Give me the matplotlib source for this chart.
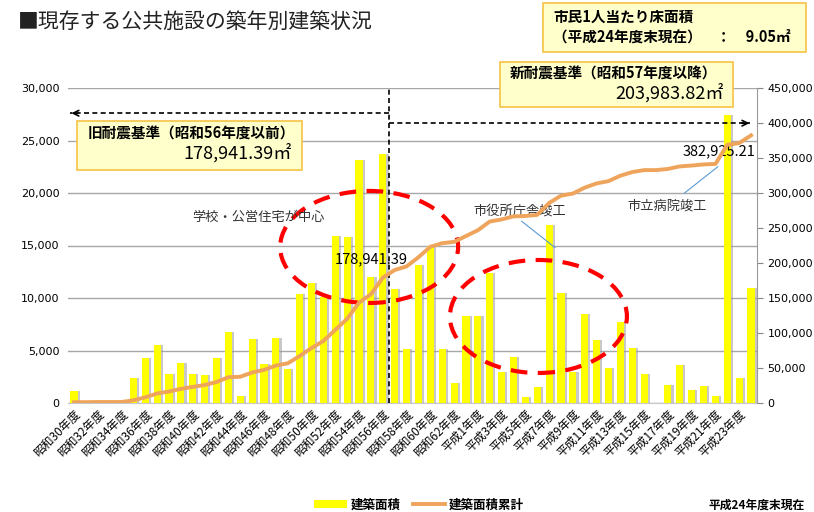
import numpy as np
import matplotlib
matplotlib.use("Agg")
import matplotlib.pyplot as plt
from matplotlib.patches import Ellipse, Rectangle, Patch
from matplotlib.lines import Line2D

plt.rcParams['font.family'] = ['Noto Sans CJK JP', 'DejaVu Sans']

# 年度ラベル（昭和30年度〜平成24年度）
years = ['昭和%d年度' % y for y in range(30, 64)] + ['平成%d年度' % y for y in range(1, 25)]

# 建築面積（㎡）
area = [1100, 100, 200, 0, 0, 2400, 4300, 5500, 2800, 3800,
        2800, 2700, 4300, 6800, 700, 6100, 3700, 6200, 3200, 10400,
        11400, 10100, 15900, 15800, 23100, 12000, 23700,
        10900, 5100, 13100, 15000, 5100, 1900, 8300, 8300, 12400,
        3000, 4400, 600, 1500, 17000, 10500, 3000, 8500, 6000,
        3300, 7700, 5200, 2800, 0, 1700, 3600, 1200, 1600,
        700, 27400, 2400, 11000]

cumulative = np.cumsum(area)
x = np.arange(len(years))

W, H = 814, 512


def fx(px):
    return px / W


def fy(py):
    return 1 - py / H


fig = plt.figure(figsize=(W / 100, H / 100), dpi=100)
ax = fig.add_axes([fx(68), fy(403), (757 - 68) / W, (403 - 88) / H])
ax2 = ax.twinx()

# 棒（影つき）
ax.bar(x + 0.18, area, width=0.6, color='#9c9c9c', alpha=0.55, zorder=2)
ax.bar(x, area, width=0.6, color='#FFFF00', zorder=3)

ax.set_xlim(-0.5, len(years) - 0.5)
ax.set_ylim(0, 30000)
ax.set_yticks(np.arange(0, 30001, 5000))
ax.set_yticklabels(['{:,}'.format(v) for v in range(0, 30001, 5000)], fontsize=8,
                   family=['DejaVu Sans'])
ax.grid(axis='y', color='#a8a8a8', linewidth=1)
ax.set_axisbelow(True)
ax.tick_params(axis='y', length=0, pad=6)
ax.set_xticks(x[::2])
ax.set_xticklabels(years[::2], rotation=45, ha='right', va='top',
                   rotation_mode='anchor', fontsize=8.5)
ax.tick_params(axis='x', length=0, pad=3)
for s in ['left', 'top', 'right']:
    ax.spines[s].set_visible(False)
ax.spines['bottom'].set_color('#c8c8c8')

# 累計の折れ線
ax2.plot(x, cumulative, color='#EFA45C', linewidth=2.8, zorder=4)
ax2.set_ylim(0, 450000)
ax2.set_yticks(np.arange(0, 450001, 50000))
ax2.set_yticklabels(['{:,}'.format(v) for v in range(0, 450001, 50000)], fontsize=8,
                    family=['DejaVu Sans'])
ax2.tick_params(axis='y', length=4, color='#888888')
for s in ['left', 'top', 'bottom']:
    ax2.spines[s].set_visible(False)
ax2.spines['right'].set_color('#999999')

# 旧／新耐震基準の境界
ax.axvline(26.5, color='black', linestyle=(0, (3, 2)), linewidth=1.2, zorder=5)
ax.plot([26.5, -0.3], [27600, 27600], color='black', linestyle=(0, (3, 2)),
        linewidth=1.2, clip_on=False, zorder=5)
ax.annotate('', xy=(-0.45, 27600), xytext=(0.6, 27600),
            arrowprops=dict(arrowstyle='->', color='black', lw=1.2), annotation_clip=False)
ax.plot([26.5, 56.9], [26650, 26650], color='black', linestyle=(0, (3, 2)),
        linewidth=1.2, clip_on=False, zorder=5)
ax.annotate('', xy=(57.1, 26650), xytext=(56.0, 26650),
            arrowprops=dict(arrowstyle='->', color='black', lw=1.2), annotation_clip=False)

# 赤い破線の楕円
ax.add_patch(Ellipse((24.85, 14860), 14.98, 10670, fill=False, edgecolor='#FF0000',
                     linestyle=(0, (4, 2.5)), linewidth=3, zorder=6))
ax.add_patch(Ellipse((39.1, 8240), 14.9, 10760, fill=False, edgecolor='#FF0000',
                     linestyle=(0, (4, 2.5)), linewidth=3, zorder=6))

# 注記
ax.text(15.5, 17700, '学校・公営住宅が中心', fontsize=9.5, color='#333333',
        ha='center', va='center', zorder=7)
ax.text(25.0, 13700, '178,941.39', fontsize=10.5, color='black',
        ha='center', va='center', zorder=7)
ax.text(37.5, 18200, '市役所庁舎竣工', fontsize=9.5, color='#333333',
        ha='center', va='center', zorder=7)
ax.plot([37.7, 40.5], [17300, 14800], color='#5B9BD5', linewidth=0.8, zorder=7)
ax.text(49.9, 18800, '市立病院竣工', fontsize=9.5, color='#333333',
        ha='center', va='center', zorder=7)
ax.plot([51.4, 54.2], [20000, 22500], color='#5B9BD5', linewidth=0.8, zorder=7)
ax.text(57.4, 24000, '382,925.21', fontsize=10.5, color='black',
        ha='right', va='center', zorder=7)

# タイトル
fig.text(fx(18), fy(22), '■現存する公共施設の築年別建築状況', fontsize=15,
         ha='left', va='center', color='#222222')


def box(x0, y0, x1, y1):
    fig.patches.append(Rectangle((fx(x0), fy(y1)), (x1 - x0) / W, (y1 - y0) / H,
                                 transform=fig.transFigure, facecolor='#FFFFCC',
                                 edgecolor='#F6C244', linewidth=1.2, zorder=8))


box(543, 3, 806, 52)
fig.text(fx(553), fy(17), '市民1人当たり床面積', fontsize=10.5, weight='bold',
         ha='left', va='center', zorder=9)
fig.text(fx(553), fy(37), '（平成24年度末現在）　：　9.05㎡', fontsize=10.5, weight='bold',
         ha='left', va='center', zorder=9)

box(500, 62, 733, 107)
fig.text(fx(510), fy(74), '新耐震基準（昭和57年度以降）', fontsize=10.5, weight='bold',
         ha='left', va='center', zorder=9)
fig.text(fx(724), fy(93), '203,983.82㎡', fontsize=13, ha='right', va='center', zorder=9)

box(77, 121, 302, 170)
fig.text(fx(88), fy(134), '旧耐震基準（昭和56年度以前）', fontsize=10.5, weight='bold',
         ha='left', va='center', zorder=9)
fig.text(fx(292), fy(153), '178,941.39㎡', fontsize=13, ha='right', va='center', zorder=9)

# 凡例
handles = [Patch(facecolor='#FFFF00', edgecolor='none'),
           Line2D([0], [0], color='#EFA45C', linewidth=2.8)]
leg = fig.legend(handles, ['建築面積', '建築面積累計'], ncol=2, frameon=False,
                 loc='center', bbox_to_anchor=(fx(419), fy(505)), fontsize=9,
                 handlelength=2.6, handleheight=0.6, columnspacing=1.0, handletextpad=0.3)
for t in leg.get_texts():
    t.set_weight('bold')

fig.text(fx(805), fy(505), '平成24年度末現在', fontsize=8.5, weight='bold',
         ha='right', va='center')

fig.savefig('out.png', dpi=100)
